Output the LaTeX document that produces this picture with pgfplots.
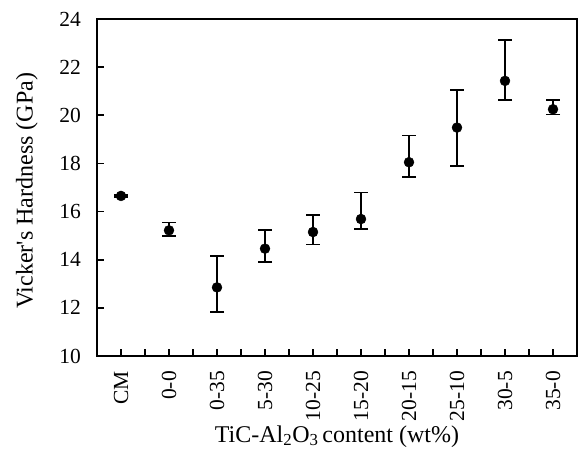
\documentclass[border=0pt]{standalone}
\usepackage{pgfplots}
\pgfplotsset{compat=1.18}
\usepackage{fontspec}
\setmainfont{Liberation Serif}

\pgfplotstableread{
x y ep em
0 16.65 0.03 0.03
1 15.22 0.33 0.22
2 12.85 1.29 1.01
3 14.46 0.78 0.57
4 15.15 0.72 0.52
5 15.69 1.10 0.42
6 18.05 1.11 0.62
7 19.49 1.56 1.59
8 21.43 1.70 0.79
9 20.25 0.39 0.22
}\hardness

\begin{document}
\begin{tikzpicture}
% page frame: axis box runs from (0,0) to (480pt,337pt)
\path[use as bounding box] (-97pt,-92pt) rectangle (481pt,356pt);
\begin{axis}[
  at={(0,0)}, anchor=south west,
  scale only axis, width=480pt, height=337pt,
  xmin=-0.5, xmax=9.5, ymin=10, ymax=24,
  ytick={10,12,...,24},
  xtick={0,...,9},
  xticklabels={CM,0-0,0-35,5-30,10-25,15-20,20-15,25-10,30-5,35-0},
  minor x tick num=1,
  tick align=inside, tick pos=left,
  major tick length=7pt, minor tick length=7pt,
  every tick/.style={black, line width=1.6pt},
  axis line style={line width=1.8pt},
  font=\fontsize{21.5}{24}\selectfont,
  /pgf/number format/assume math mode=true,
  yticklabel style={anchor=east, inner sep=0pt, xshift=-16pt},
  xticklabel style={rotate=90, anchor=east, inner sep=0pt, xshift=-15pt},
  xlabel={TiC-Al\textsubscript{2}O\textsubscript{3}\,content (wt\%)},
  ylabel={Vicker\textquotesingle s Hardness (GPa)},
  xlabel style={at={(axis description cs:0.5,0)}, anchor=base, yshift=-86pt, font=\fontsize{24}{27}\selectfont},
  ylabel style={at={(axis description cs:-0.146,0.49)}, anchor=center, font=\fontsize{24}{27}\selectfont},
]
\addplot[only marks, black, mark=*, mark size=5pt,
  error bars/.cd, y dir=both, y explicit,
  error bar style={line width=1.8pt, black},
  error mark options={rotate=90, mark size=7pt, line width=1.8pt, black}]
  table[x=x, y=y, y error plus=ep, y error minus=em]{\hardness};
\end{axis}
\end{tikzpicture}
\end{document}
